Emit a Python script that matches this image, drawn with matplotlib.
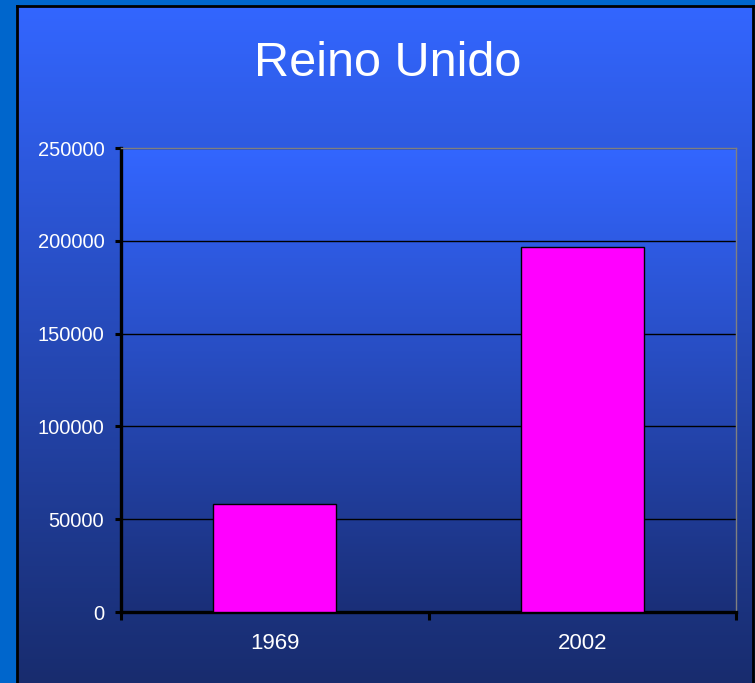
import numpy as np
import matplotlib
matplotlib.use("Agg")
import matplotlib.pyplot as plt
from matplotlib.colors import LinearSegmentedColormap

plt.rcParams['font.family'] = ['Liberation Sans', 'DejaVu Sans']

# Data
categories = ["1969", "2002"]
values = [58000, 196500]
yticks = [0, 50000, 100000, 150000, 200000, 250000]
title = "Reino Unido"

W, H = 755, 683
fig = plt.figure(figsize=(W / 100, H / 100), dpi=100)
fig.patch.set_facecolor("#0066cc")

# Chart panel background with gradient
bg = fig.add_axes([17 / W, 0, (753 - 17) / W, (H - 6) / H])
cmap_bg = LinearSegmentedColormap.from_list("bg", ["#3366ff", "#182c6e"])
bg.imshow(np.linspace(0, 1, 256).reshape(-1, 1), aspect="auto", cmap=cmap_bg,
          extent=[0, 1, 0, 1], origin="upper")
bg.set_xlim(0, 1)
bg.set_ylim(0, 1)
bg.set_xticks([])
bg.set_yticks([])
for s in ["left", "top", "right"]:
    bg.spines[s].set_color("black")
    bg.spines[s].set_linewidth(2)
bg.spines["bottom"].set_visible(False)

fig.text((252 + 523) / 2 / W, 1 - 64 / H, title, color="white", fontsize=35,
         ha="center", va="center")

# Plot area
left, right, top, bottom = 121, 736, 148, 612
ax = fig.add_axes([left / W, (H - bottom) / H, (right - left) / W, (bottom - top) / H])
cmap_pa = LinearSegmentedColormap.from_list("pa", ["#3366ff", "#1a2f78"])
ax.imshow(np.linspace(0, 1, 256).reshape(-1, 1), aspect="auto", cmap=cmap_pa,
          extent=[-0.5, 1.5, 0, 250000], origin="upper", zorder=0)

x = np.arange(len(categories))
ax.bar(x, values, width=0.4, color="#ff00ff", edgecolor="black", linewidth=1, zorder=3)

ax.set_xlim(-0.5, len(categories) - 0.5)
ax.set_ylim(0, 250000)
ax.set_yticks(yticks)
ax.set_yticklabels([str(v) for v in yticks], color="white", fontsize=14.5)
ax.yaxis.grid(True, color="black", linewidth=1)
ax.set_axisbelow(True)

ax.set_xticks(np.arange(len(categories) + 1) - 0.5)
ax.set_xticklabels([])
ax.set_xticks(x, minor=True)
ax.set_xticklabels(categories, minor=True, color="white", fontsize=16)
ax.tick_params(axis="x", which="minor", length=0, pad=15)
ax.tick_params(axis="x", which="major", length=6, width=2.2, color="black", direction="out")
ax.tick_params(axis="y", length=4, width=2.2, color="black", pad=8)

ax.spines["left"].set_linewidth(2.4)
ax.spines["bottom"].set_linewidth(2.4)
ax.spines["left"].set_color("black")
ax.spines["bottom"].set_color("black")
ax.spines["top"].set_color("#808080")
ax.spines["right"].set_color("#808080")
ax.spines["top"].set_linewidth(1)
ax.spines["right"].set_linewidth(1)

fig.savefig("out.png", dpi=100, facecolor=fig.get_facecolor())
